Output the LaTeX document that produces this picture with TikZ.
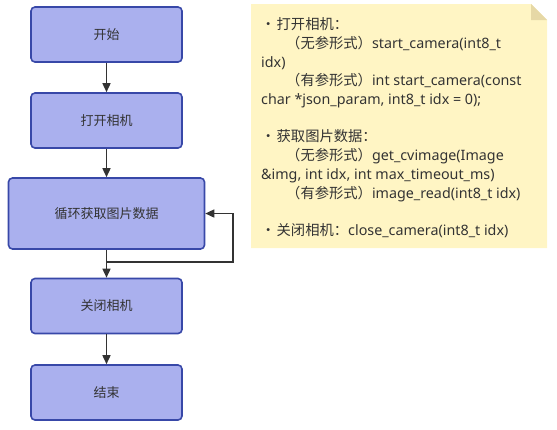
\documentclass[tikz,border=0pt]{standalone}
\usepackage{fontspec}
\setmainfont{Noto Sans}
\newfontfamily\cjk{Noto Sans CJK SC}
\usetikzlibrary{arrows.meta}
\definecolor{boxfill}{RGB}{170,176,238}
\definecolor{boxdraw}{RGB}{56,72,168}
\definecolor{txt}{RGB}{51,51,51}
\definecolor{notefill}{RGB}{255,245,196}
\definecolor{foldfill}{RGB}{230,216,166}
\definecolor{arrc}{RGB}{51,51,51}
\tikzset{
  flowbox/.style={draw=boxdraw, fill=boxfill, line width=1.6bp, rounded corners=4bp,
    text=txt, font=\cjk\fontsize{13bp}{15bp}\selectfont, inner sep=0pt},
  arr/.style={draw=arrc, line width=1.5bp, -{Triangle[length=9bp,width=8bp]}},
}
\newcommand{\blt}{\makebox[15.5bp][l]{\cjk •}}
\newcommand{\ind}{\hspace*{25bp}}
\begin{document}
\begin{tikzpicture}[x=1bp,y=-1bp]
\useasboundingbox (0,0) rectangle (557,429);
\node[flowbox, minimum width=151bp, minimum height=55bp] (b1) at (106.5,34.5) {开始};
\node[flowbox, minimum width=151bp, minimum height=55bp] (b2) at (106.5,120.5) {打开相机};
\node[flowbox, minimum width=196bp, minimum height=71bp] (b3) at (106.5,213.5) {循环获取图片数据};
\node[flowbox, minimum width=151bp, minimum height=55bp] (b4) at (106.5,306) {关闭相机};
\node[flowbox, minimum width=151bp, minimum height=55bp] (b5) at (106.5,392.5) {结束};
\coordinate (lp) at (233,262);
\draw[arr] (b1) -- (b2);
\draw[arr] (b2) -- (b3);
\draw[arr] (b3) -- (b4);
\draw[arr] (b4) -- (b5);
\draw[arr] (b3.south) |- (lp) |- (b3.east);
% note
\fill[notefill] (251,4) -- (531,4) -- (547,20) -- (547,248) -- (251,248) -- cycle;
\fill[foldfill] (531,4) -- (547,20) -- (531,20) -- cycle;
\node[anchor=north west, inner sep=0pt, align=left, text=txt,
  font=\fontsize{14.3bp}{18.7bp}\selectfont] (note) at (261,17.5) {%
\blt{\cjk 打开相机：}\\
\ind{\cjk （无参形式）}start\_camera(int8\_t\\
idx)\\
\ind{\cjk （有参形式）}int start\_camera(const\\
char *json\_param, int8\_t idx = 0);\\
\mbox{}\\
\blt{\cjk 获取图片数据：}\\
\ind{\cjk （无参形式）}get\_cvimage(Image\\
\&img, int idx, int max\_timeout\_ms)\\
\ind{\cjk （有参形式）}image\_read(int8\_t idx)\\
\mbox{}\\
\blt{\cjk 关闭相机：}close\_camera(int8\_t idx)};
\end{tikzpicture}
\end{document}
